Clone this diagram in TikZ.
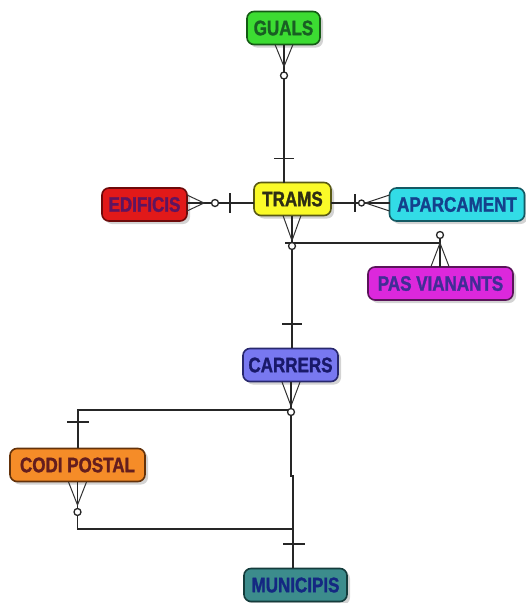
\documentclass[tikz,border=0pt]{standalone}
\usepackage{fontspec}
\newfontfamily\boxfont[FakeStretch=0.81, BoldFeatures={FakeBold=1.4}]{Liberation Sans}
\usetikzlibrary{shadows,calc}
\definecolor{gfill}{RGB}{60,220,50}\definecolor{gline}{RGB}{20,90,20}\definecolor{gtext}{RGB}{25,95,35}
\definecolor{tfill}{RGB}{250,250,40}\definecolor{tline}{RGB}{90,90,20}\definecolor{ttext}{RGB}{45,45,20}
\definecolor{efill}{RGB}{225,25,25}\definecolor{eline}{RGB}{110,10,10}\definecolor{etext}{RGB}{95,20,95}
\definecolor{afill}{RGB}{50,220,230}\definecolor{aline}{RGB}{20,90,100}\definecolor{atext}{RGB}{20,65,140}
\definecolor{pfill}{RGB}{220,40,220}\definecolor{pline}{RGB}{90,20,90}\definecolor{ptext}{RGB}{65,45,150}
\definecolor{cfill}{RGB}{120,120,240}\definecolor{cline}{RGB}{40,40,110}\definecolor{ctext}{RGB}{25,25,105}
\definecolor{ofill}{RGB}{245,140,40}\definecolor{oline}{RGB}{100,50,10}\definecolor{otext}{RGB}{100,30,30}
\definecolor{mfill}{RGB}{60,140,140}\definecolor{mline}{RGB}{20,60,60}\definecolor{mtext}{RGB}{20,40,130}
\tikzset{
  entity/.style={draw, line width=1.6pt, rounded corners=7pt, minimum height=33pt, inner sep=0pt,
    font=\boxfont\bfseries\fontsize{21}{22}\selectfont,
    drop shadow={shadow xshift=3pt, shadow yshift=-3pt, opacity=0.35, fill=gray}},
  rel/.style={draw=black!85, line width=1.5pt},
  foot/.style={draw=black!80, line width=1pt},
  barline/.style={draw=black!85, line width=1.6pt},
  ring/.style={draw=black!85, line width=1.3pt, fill=white}
}
\begin{document}
\begin{tikzpicture}[x=1pt,y=-1pt]
\useasboundingbox (0,0) rectangle (526,603);
% entities
\node[entity, fill=gfill, draw=gline, text=gtext, minimum width=73pt] (GUALS) at (283.5,28) {GUALS};
\node[entity, fill=tfill, draw=tline, text=ttext, minimum width=77pt] (TRAMS) at (292.5,199) {TRAMS};
\node[entity, fill=efill, draw=eline, text=etext, minimum width=85pt] (EDIF) at (144.5,204.5) {EDIFICIS};
\node[entity, fill=afill, draw=aline, text=atext, minimum width=135pt] (APAR) at (457,204.5) {APARCAMENT};
\node[entity, fill=pfill, draw=pline, text=ptext, minimum width=145pt] (PAS) at (440.5,283.5) {PAS VIANANTS};
\node[entity, fill=cfill, draw=cline, text=ctext, minimum width=95pt] (CARR) at (290.5,365) {CARRERS};
\node[entity, fill=ofill, draw=oline, text=otext, minimum width=135pt] (CODI) at (77.5,465) {CODI POSTAL};
\node[entity, fill=mfill, draw=mline, text=mtext, minimum width=103pt] (MUNI) at (295.5,585) {MUNICIPIS};

% GUALS - TRAMS
\coordinate (gb) at (284,44.5);
\coordinate (tg) at (284,182.5);
\draw[rel] (gb) -- (tg);
\draw[foot] ($(gb)+(-9,0)$) -- ($(gb)+(0,22)$) -- ($(gb)+(9,0)$);
\draw[barline] ($(tg)+(-10,-24)$) -- ($(tg)+(10,-24)$);
\draw[ring] ($(gb)+(0,31)$) circle (3.5pt);

% EDIFICIS - TRAMS
\coordinate (ee) at (187,203);
\coordinate (te) at (254,203);
\draw[rel] (ee) -- (te);
\draw[foot] ($(ee)+(0,-8)$) -- ($(ee)+(17,0)$) -- ($(ee)+(0,8)$);
\draw[ring] ($(ee)+(28,0)$) circle (3.5pt);
\draw[barline] ($(te)+(-24,-10)$) -- ($(te)+(-24,10)$);

% TRAMS - APARCAMENT
\coordinate (ta) at (331,203);
\coordinate (aw) at (389.5,203);
\draw[rel] (ta) -- (aw);
\draw[barline] (355,194) -- (355,212);
\draw[ring] (361.5,203) circle (3pt);
\draw[foot] ($(aw)+(0,-8)$) -- ($(aw)+(-24,0)$) -- ($(aw)+(0,8)$);

% TRAMS - PAS VIANANTS
\coordinate (ts) at (292,215.5);
\coordinate (tj) at (292,243);
\coordinate (pj) at (440,243);
\coordinate (pn) at (440,266.5);
\draw[rel] (285,243) -- (pj);
\draw[rel] (440,236) -- (pn);
\draw[foot] ($(pn)+(-9,0)$) -- (pj) -- ($(pn)+(9,0)$);
\draw[ring] (440,235) circle (3.5pt);

% TRAMS - CARRERS
\coordinate (cn) at (292,348);
\draw[rel] (ts) -- (cn);
\draw[foot] ($(ts)+(-9,0)$) -- ($(ts)+(0,25)$) -- ($(ts)+(9,0)$);
\draw[ring] (292,246) circle (3.5pt);
\draw[barline] (282,324) -- (302,324);

% CARRERS - CODI POSTAL
\coordinate (cs) at (291,382);
\coordinate (ck) at (291,410);
\coordinate (oc) at (78,410);
\coordinate (on) at (78,448);
\draw[rel] (ck) -- (oc) -- (on);
\draw[barline] (67,422) -- (89,422);
\draw[foot] ($(cs)+(-9,0)$) -- ($(cs)+(0,24)$) -- ($(cs)+(9,0)$);

% CARRERS - MUNICIPIS
\coordinate (mn) at (293,568);
\draw[rel] (cs) -- (291,476) -- (293,476) -- (mn);
\draw[ring] (291,412) circle (3.5pt);
\draw[barline] (283,544) -- (305,544);

% CODI POSTAL - MUNICIPIS
\coordinate (os) at (77.5,482);
\coordinate (om) at (77.5,529);
\coordinate (mm) at (293,529);
\draw[rel] (os) -- (om) -- (mm);
\draw[foot] ($(os)+(-9,0)$) -- ($(os)+(0,23)$) -- ($(os)+(9,0)$);
\draw[ring] (77.5,512) circle (3.5pt);
\end{tikzpicture}
\end{document}
